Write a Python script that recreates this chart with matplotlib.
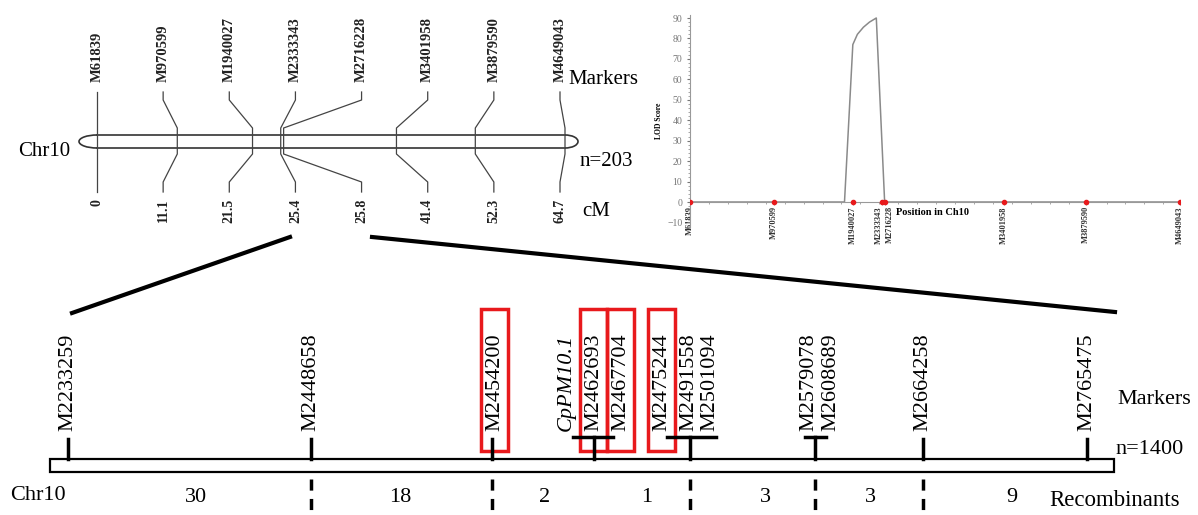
import matplotlib.pyplot as plt
from matplotlib.patches import Rectangle, Arc
from matplotlib.ticker import MultipleLocator

plt.rcParams['font.family'] = ['Liberation Serif', 'DejaVu Serif']

# genetic map (top), n=203
map_markers = ["M61839", "M970599", "M1940027", "M2333343",
               "M2716228", "M3401958", "M3879590", "M4649043"]
map_cm = [0, 11.1, 21.5, 25.4, 25.8, 41.4, 52.3, 64.7]
map_cm_labels = ["0", "11.1", "21.5", "25.4", "25.8", "41.4", "52.3", "64.7"]

# LOD profile along Ch10
lod_pos = [0, 20.4, 21.5, 22.1, 22.9, 23.7, 24.6, 25.7, 64.7]
lod_val = [0, 0, 77, 82, 85.5, 88, 90, 0, 0]

# fine map (bottom), n=1400
fine_groups = [
    ["M2233259"],
    ["M2448658"],
    ["M2454200"],
    ["CpPM10.1", "M2462693", "M2467704"],
    ["M2475244", "M2491558", "M2501094"],
    ["M2579078", "M2608689"],
    ["M2664258"],
    ["M2765475"],
]
boxed = ["M2454200", "M2462693", "M2467704", "M2475244"]
recombinants = [30, 18, 2, 1, 3, 3, 9]

# layout (pixels)
W, H = 1198, 515
chr_x0, chr_x1 = 97, 565
lab_x0, lab_x1 = 97, 560
group_x = [68, 311, 492, 594, 690, 815, 923, 1087]
group_label_x = [[68], [311], [495], [566, 594, 621], [662, 689, 710],
                 [809, 831], [923], [1087]]
group_bar = [None, None, None, (573, 613), (667, 716), (805, 826), None, None]

fig = plt.figure(figsize=(W / 100, H / 100), dpi=100)
ax = fig.add_axes([0, 0, 1, 1])
ax.set_xlim(0, W)
ax.set_ylim(H, 0)
ax.axis('off')

# ---- top genetic map
sc = (chr_x1 - chr_x0) / map_cm[-1]
yt, yb = 135, 148
ax.plot([chr_x0, chr_x1], [yt, yt], color='#333333', lw=1.2)
ax.plot([chr_x0, chr_x1], [yb, yb], color='#333333', lw=1.2)
ax.add_patch(Arc((chr_x0, (yt + yb) / 2), 36, yb - yt, theta1=90, theta2=270,
                 color='#333333', lw=1.2))
ax.add_patch(Arc((chr_x1, (yt + yb) / 2), 26, yb - yt, theta1=-90, theta2=90,
                 color='#333333', lw=1.2))
step = (lab_x1 - lab_x0) / (len(map_markers) - 1)
for i, (name, cm, lab) in enumerate(zip(map_markers, map_cm, map_cm_labels)):
    lx = lab_x0 + i * step
    cx = chr_x0 + cm * sc
    ax.plot([lx, lx, cx, cx, lx, lx], [92, 100, 128, 154, 182, 192],
            color='#444444', lw=0.9)
    ax.text(lx, 82, name, rotation=90, ha='center', va='bottom',
            fontsize=10.5, fontweight='bold', color='#222222')
    ax.text(lx, 199, lab, rotation=90, ha='center', va='top',
            fontsize=10, fontweight='bold', color='#222222')
ax.text(18, 152, "Chr10", fontsize=15, va='center', ha='left')
ax.text(568, 80, "Markers", fontsize=15, va='center', ha='left')
ax.text(580, 162, "n=203", fontsize=15, va='center', ha='left')
ax.text(582, 212, "cM", fontsize=15, va='center', ha='left')

# ---- zoom lines
ax.plot([290, 72], [237, 313], color='black', lw=3)
ax.plot([372, 1115], [237, 312], color='black', lw=3)

# ---- bottom fine map
bar_top, bar_bot = 459, 472
ax.add_patch(Rectangle((50, bar_top), 1064, bar_bot - bar_top,
                       fill=False, edgecolor='black', lw=1.6))
for gx, labs, lxs, bar in zip(group_x, fine_groups, group_label_x, group_bar):
    if bar is None:
        ax.plot([gx, gx], [bar_top, 439], color='black', lw=2.5)
    else:
        ax.plot([gx, gx], [bar_top, 437], color='black', lw=2.5)
        ax.plot(bar, [437, 437], color='black', lw=2.5)
    for name, lx in zip(labs, lxs):
        style = 'italic' if name.startswith("Cp") else 'normal'
        ax.text(lx, 431, name, rotation=90, ha='center', va='bottom',
                fontsize=16, fontstyle=style)
        if name in boxed:
            ax.add_patch(Rectangle((lx - 14, 309), 27, 142, fill=False,
                                   edgecolor='#e8191c', lw=2.5))

# dashed boundaries and recombinant counts
for gx in [group_x[1], group_x[2], group_x[4], group_x[5], group_x[6]]:
    ax.plot([gx, gx], [479, 515], color='black', lw=2.5,
            linestyle=(0, (3.2, 2.4)))
rec_x = [196, 400, 545, 647, 765, 870, 1012]
for rx, n in zip(rec_x, recombinants):
    ax.text(rx, 498, str(n), fontsize=16, ha='center', va='center')
ax.text(10, 495, "Chr10", fontsize=16, va='center', ha='left')
ax.text(1117, 399, "Markers", fontsize=16, va='center', ha='left')
ax.text(1115, 449, "n=1400", fontsize=16, va='center', ha='left')
ax.text(1049, 501, "Recombinants", fontsize=16.5, va='center', ha='left')

# ---- LOD inset
px0, px1 = 690, 1180
ppu = (202 - 18) / 90.0
y_lo, y_hi = -12, 91.5
top_px = 202 - y_hi * ppu
bot_px = 202 - y_lo * ppu
lax = fig.add_axes([px0 / W, 1 - bot_px / H, (px1 - px0) / W, (bot_px - top_px) / H])
lax.patch.set_alpha(0)
lax.set_xlim(0, map_cm[-1])
lax.set_ylim(y_lo, y_hi)
lax.plot(lod_pos, lod_val, color='#8a8a8a', lw=1.1)
lax.scatter(map_cm, [0] * len(map_cm), s=9, color='#e8191c', zorder=3)
lax.spines['top'].set_visible(False)
lax.spines['right'].set_visible(False)
lax.spines['bottom'].set_position(('data', 0))
for s in ['left', 'bottom']:
    lax.spines[s].set_color('#999999')
    lax.spines[s].set_linewidth(0.8)
lax.set_yticks(range(-10, 91, 10))
lax.yaxis.set_minor_locator(MultipleLocator(2))
lax.xaxis.set_minor_locator(MultipleLocator(2.5))
lax.set_xticks(map_cm)
lax.set_xticklabels(map_markers, rotation=90, fontsize=6, fontweight='bold')
lax.tick_params(axis='y', labelsize=7, colors='#777777', length=2)
lax.tick_params(axis='y', which='minor', length=1.5, colors='#999999')
lax.tick_params(axis='x', length=2, colors='#999999', pad=1)
lax.tick_params(axis='x', which='minor', length=1.5, colors='#999999')
xt = lax.get_xticklabels()
for t in xt:
    t.set_color('#333333')
# the two close markers sit side by side
xt[3].set_horizontalalignment('right')
xt[4].set_horizontalalignment('left')
lax.set_ylabel("LOD Score", fontsize=5.5, fontweight='bold', labelpad=3)
lax.text(27.2, -5.2, "Position in Ch10", fontsize=7.5, fontweight='bold',
         ha='left', va='center')

fig.savefig("out.png", dpi=100)
